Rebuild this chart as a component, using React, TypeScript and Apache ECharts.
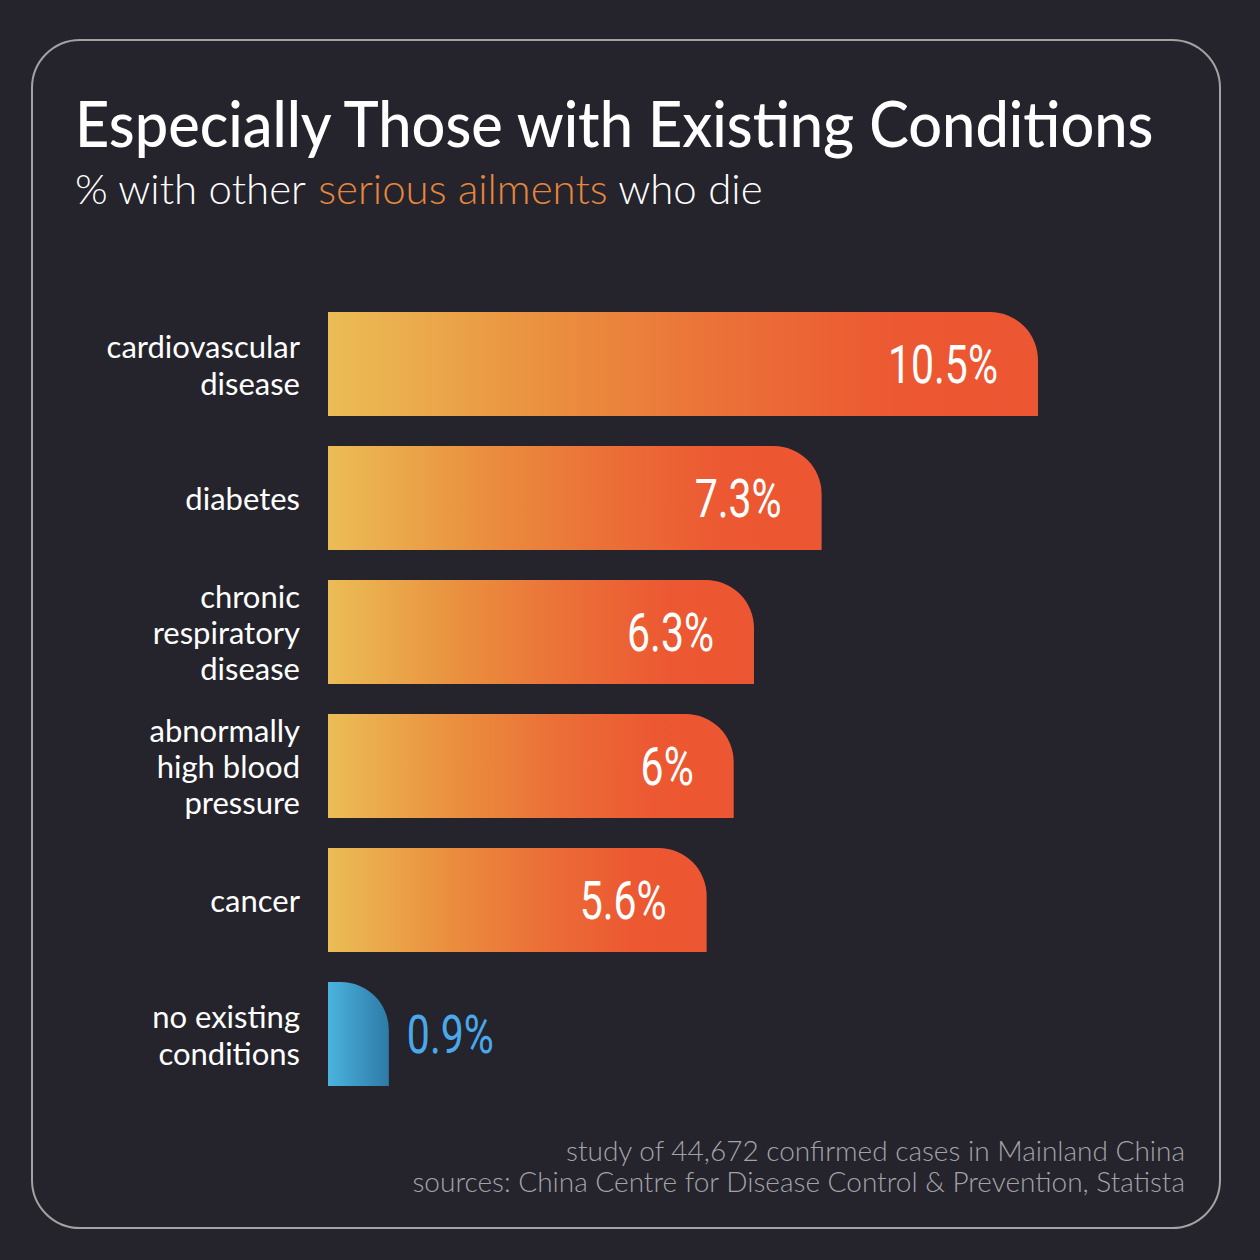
import React, { useEffect, useRef } from "react";
import * as echarts from "echarts";

const categories = [
  "cardiovascular\ndisease",
  "diabetes",
  "chronic\nrespiratory\ndisease",
  "abnormally\nhigh blood\npressure",
  "cancer",
  "no existing\nconditions",
];
const values = [10.5, 7.3, 6.3, 6, 5.6, 0.9];
const highlightIndex = 5; // "no existing conditions" drawn in blue

const titleText = "Especially Those with Existing Conditions";
const subtitleParts = ["% with other ", "serious ailments", " who die"];
const footerLines = [
  "study of 44,672 confirmed cases in Mainland China",
  "sources: China Centre for Disease Control & Prevention, Statista",
];

const BG = "#25242c";
const ORANGE_STOPS = [
  { offset: 0, color: "#ebbd56" },
  { offset: 0.3, color: "#ea913f" },
  { offset: 0.55, color: "#eb7138" },
  { offset: 0.8, color: "#ec5832" },
  { offset: 1, color: "#ec5632" },
];
const BLUE_STOPS = [
  { offset: 0, color: "#4ab4de" },
  { offset: 1, color: "#2e7aa6" },
];
const BLUE_TEXT = "#4aa9eb";
const HIGHLIGHT = "#e8873c";

export default function App() {
  const ref = useRef<HTMLDivElement>(null);

  useEffect(() => {
    if (!ref.current) return;
    const chart = echarts.init(ref.current, undefined, { renderer: "svg" });

    const grad = (stops: any[]) => new echarts.graphic.LinearGradient(0, 0, 1, 0, stops);

    const data = values.map((v, i) => ({
      value: v,
      itemStyle: {
        color: grad(i === highlightIndex ? BLUE_STOPS : ORANGE_STOPS),
        borderRadius: [0, 48, 0, 0],
      },
    }));

    chart.setOption({
      animation: false,
      backgroundColor: BG,
      grid: { left: 328, right: 120.6, top: 297, bottom: 159, containLabel: false },
      xAxis: { type: "value", min: 0, max: 12, show: false },
      yAxis: {
        type: "category",
        data: categories,
        inverse: true,
        axisLine: { show: false },
        axisTick: { show: false },
        splitLine: { show: false },
        axisLabel: {
          color: "#ffffff",
          fontFamily: "Lato",
          fontSize: 31,
          margin: 28,
          align: "right",
          formatter: (v: string) =>
            v.split("\n").length >= 3 ? `{l3|${v}}` : `{l2|${v}}`,
          rich: {
            l2: { fontFamily: "Lato", fontSize: 31, lineHeight: 37, color: "#ffffff", align: "right" },
            l3: { fontFamily: "Lato", fontSize: 31, lineHeight: 36, color: "#ffffff", align: "right" },
          },
        },
      },
      series: [
        {
          type: "bar",
          data,
          barWidth: 104,
          label: { show: false },
        },
        {
          type: "custom",
          data: values.map((v, i) => [v, i]),
          encode: { x: 0, y: 1 },
          z: 5,
          renderItem: (params: any, api: any) => {
            const v = api.value(0);
            const idx = api.value(1);
            const p = api.coord([v, idx]);
            const isBlue = idx === highlightIndex;
            return {
              type: "text",
              x: isBlue ? p[0] + 18 : p[0] - 40,
              y: p[1] + 1,
              scaleX: 0.76,
              style: {
                x: 0,
                y: 0,
                text: `${v}%`,
                fill: isBlue ? BLUE_TEXT : "#ffffff",
                font: "400 54px Roboto",
                textAlign: isBlue ? "left" : "right",
                textVerticalAlign: "middle",
              },
            };
          },
        },
      ],
      graphic: [
        {
          type: "rect",
          z: -1,
          shape: { x: 32, y: 40, width: 1188, height: 1188, r: 48 },
          style: { fill: "none", stroke: "#a3a3a3", lineWidth: 2 },
        },
        {
          type: "text",
          x: 75,
          y: 122,
          scaleX: 0.93,
          style: {
            x: 0,
            y: 0,
            text: titleText,
            fill: "#ffffff",
            font: "500 64px Lato",
            textVerticalAlign: "middle",
            textAlign: "left",
          },
        },
        {
          type: "text",
          x: 75,
          y: 188,
          style: {
            text: `{a|${subtitleParts[0]}}{b|${subtitleParts[1]}}{a|${subtitleParts[2]}}`,
            textVerticalAlign: "middle",
            textAlign: "left",
            font: "300 42px Lato",
            rich: {
              a: { fill: "#ffffff", font: "300 42px Lato" },
              b: { fill: HIGHLIGHT, font: "300 42px Lato" },
            },
          },
        },
        ...footerLines.map((t, i) => ({
          type: "text",
          x: 1185,
          y: 1150 + i * 31,
          style: {
            text: t,
            fill: "#a3a3a8",
            font: "300 28px Lato",
            textAlign: "right",
            textVerticalAlign: "middle",
          },
        })),
      ],
    });

    return () => chart.dispose();
  }, []);

  return (
    <div
      ref={ref}
      style={{ position: "fixed", left: 0, top: 0, width: 1260, height: 1260 }}
    />
  );
}
